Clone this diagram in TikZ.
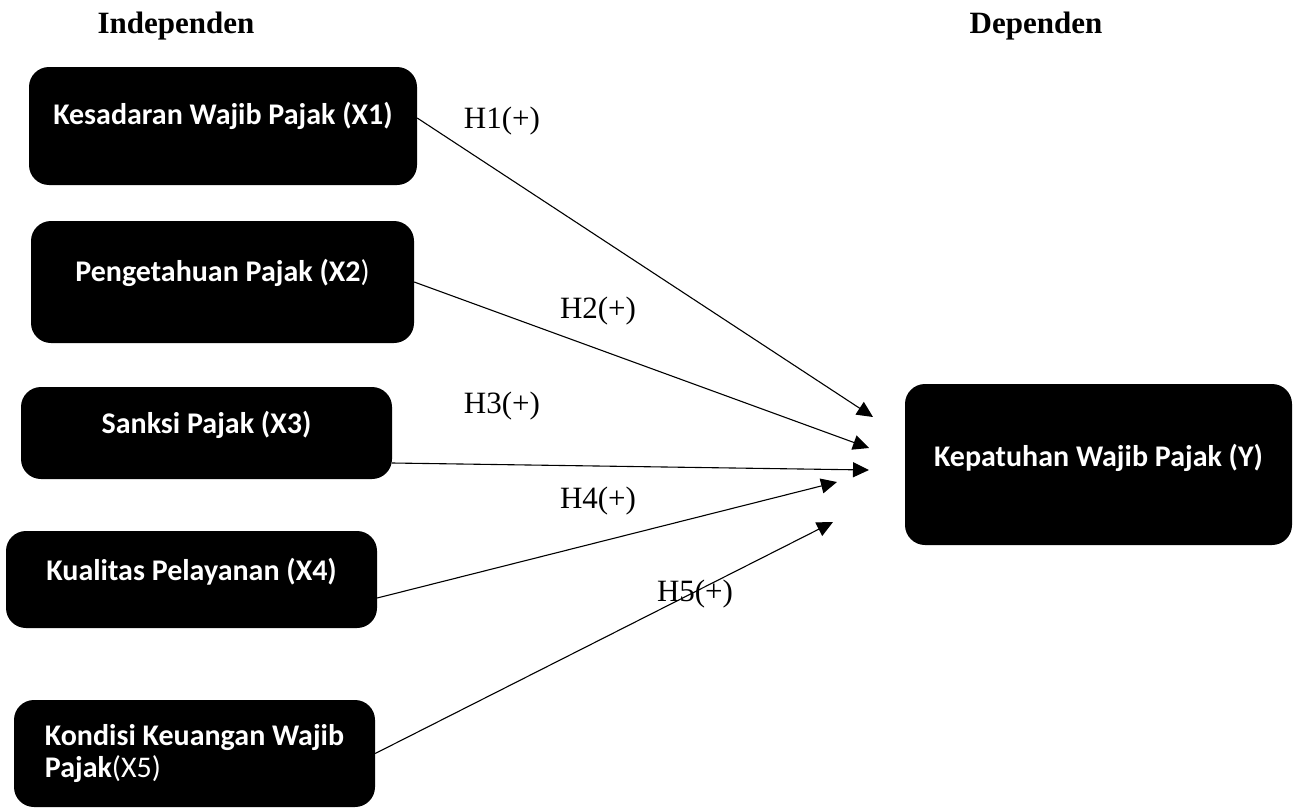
\documentclass[tikz,border=0pt]{standalone}
\usepackage{fontspec}
\setmainfont{Liberation Serif}
\newfontfamily\calibri{Carlito}
\usetikzlibrary{positioning,arrows.meta}
\tikzstyle{varbox}=[rectangle,rounded corners=20pt,fill=black,text=white,inner sep=0pt,font=\calibri\bfseries\fontsize{30}{32}\selectfont]
\tikzstyle{edge} = [draw=black,line width=1.1pt,-{Triangle[length=16pt,width=15pt]}]
\tikzstyle{hyp}=[inner sep=0pt,font=\fontsize{31}{36}\selectfont]
\tikzstyle{header}=[inner sep=0pt,font=\bfseries\fontsize{31}{36}\selectfont]
\tikzset{lift/.style={text height=20pt,text depth=#1}}

\begin{document}
\begin{tikzpicture}[x=1pt,y=-1pt]
  \useasboundingbox (0,0) rectangle (1300,808);

  \node[header] (indep) at (176,26) {Independen};
  \node[header] (dep) at (1036,26) {Dependen};

  % Variables
  \node[varbox,minimum width=388pt,minimum height=118pt,lift=23.5pt] (x1) at (223,126) {Kesadaran Wajib Pajak (X1)};
  \node[varbox,minimum width=383pt,minimum height=122pt,lift=20.5pt] (x2) at (222.5,282) {Pengetahuan Pajak (X2{\mdseries)}};
  \node[varbox,minimum width=371pt,minimum height=92pt,lift=18.5pt] (x3) at (206.5,433) {Sanksi Pajak (X3)};
  \node[varbox,minimum width=371pt,minimum height=97pt,lift=17.5pt] (x4) at (191.5,579.5) {Kualitas Pelayanan (X4)};
  \node[varbox,minimum width=361pt,minimum height=107pt,align=left] (x5) at (194.5,753.5) {Kondisi Keuangan Wajib\\Pajak{\mdseries(X5)}};
  \node[varbox,minimum width=387pt,minimum height=161pt,lift=15.5pt] (y) at (1098.5,464.5) {Kepatuhan Wajib Pajak (Y)};

  \coordinate (s1) at ([yshift=8pt]x1.east);
  \coordinate (s2) at (x2.east);
  \coordinate (s3) at ([yshift=-30pt]x3.east);
  \coordinate (s4) at ([yshift=-18.5pt]x4.east);
  \coordinate (s5) at (x5.east);
  \coordinate (t1) at (873,417);
  \coordinate (t2) at (869,448);
  \coordinate (t3) at (869,470);
  \coordinate (t4) at (837,482);
  \coordinate (t5) at (833,522);

  % Hypotheses
  \foreach \source / \dest in {s1/t1, s2/t2, s3/t3, s4/t4, s5/t5}
      \path[edge] (\source) -- (\dest);

  \foreach \pos / \name / \txt in {{(502,121)/h1/H1(+)}, {(598,311)/h2/H2(+)},
                                   {(502,406)/h3/H3(+)}, {(598,501)/h4/H4(+)},
                                   {(695,594)/h5/H5(+)}}
    \node[hyp] (\name) at \pos {\txt};
\end{tikzpicture}
\end{document}
